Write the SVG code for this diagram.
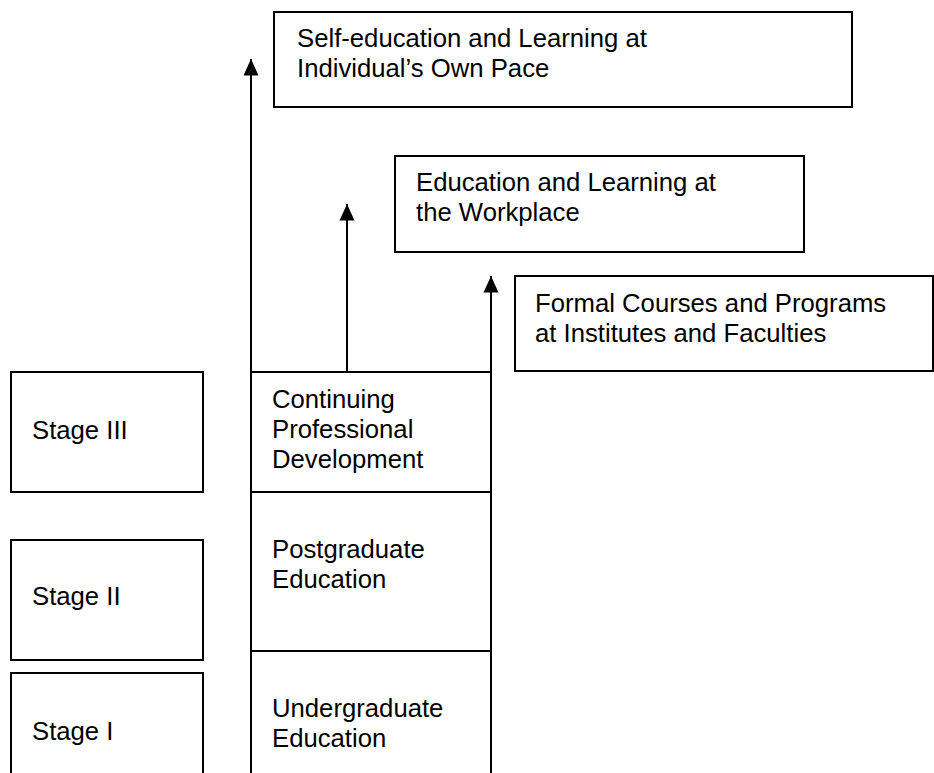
<svg xmlns="http://www.w3.org/2000/svg" width="934" height="773" viewBox="0 0 934 773">
  <style>
    .box { fill: #ffffff; stroke: #000000; stroke-width: 2; }
    .line { fill: none; stroke: #000000; stroke-width: 2; }
    .label { font-family: "Liberation Sans", Arial, sans-serif; font-size: 25.7px; fill: #000000; }
  </style>
  <defs>
    <!-- Filled triangular arrowhead, pointing along the line direction -->
    <marker id="arrowhead" markerUnits="userSpaceOnUse" markerWidth="17" markerHeight="16" refX="16.5" refY="8" orient="auto" viewBox="0 0 17 16">
      <path d="M16.5,8 L0,0.5 L0,15.5 Z" fill="#000000"/>
    </marker>
  </defs>

  <rect width="934" height="773" fill="#ffffff"/>

  <!-- Stage labels on the left -->
  <g id="stage-3">
    <rect class="box" x="11" y="372" width="192" height="120"/>
    <text class="label" x="32" y="439">Stage III</text>
  </g>
  <g id="stage-2">
    <rect class="box" x="11" y="540" width="192" height="120"/>
    <text class="label" x="32" y="605">Stage II</text>
  </g>
  <g id="stage-1">
    <rect class="box" x="11" y="673" width="192" height="120"/>
    <text class="label" x="32" y="740">Stage I</text>
  </g>

  <!-- Education column -->
  <g id="cpd">
    <rect class="box" x="251" y="372" width="240" height="120"/>
    <text class="label" x="272" y="408">Continuing</text>
    <text class="label" x="272" y="438">Professional</text>
    <text class="label" x="272" y="468">Development</text>
  </g>
  <g id="postgraduate">
    <rect class="box" x="251" y="492" width="240" height="159"/>
    <text class="label" x="272" y="558">Postgraduate</text>
    <text class="label" x="272" y="588">Education</text>
  </g>
  <g id="undergraduate">
    <rect class="box" x="251" y="651" width="240" height="140"/>
    <text class="label" x="272" y="717">Undergraduate</text>
    <text class="label" x="272" y="747">Education</text>
  </g>

  <!-- Learning modes -->
  <g id="self-education">
    <rect class="box" x="274" y="12" width="578" height="95"/>
    <text class="label" x="297" y="47">Self-education and Learning at</text>
    <text class="label" x="297" y="77">Individual’s Own Pace</text>
  </g>
  <g id="workplace">
    <rect class="box" x="395" y="156" width="409" height="96"/>
    <text class="label" x="416" y="191">Education and Learning at</text>
    <text class="label" x="416" y="221">the Workplace</text>
  </g>
  <g id="formal-courses">
    <rect class="box" x="515" y="276" width="418" height="95"/>
    <text class="label" x="535" y="312">Formal Courses and Programs</text>
    <text class="label" x="535" y="342">at Institutes and Faculties</text>
  </g>

  <!-- Connectors -->
  <g id="connectors">
    <line class="line" x1="251" y1="773" x2="251" y2="59" marker-end="url(#arrowhead)"/>
    <line class="line" x1="347" y1="372" x2="347" y2="204" marker-end="url(#arrowhead)"/>
    <line class="line" x1="491" y1="773" x2="491" y2="276" marker-end="url(#arrowhead)"/>
  </g>
</svg>
